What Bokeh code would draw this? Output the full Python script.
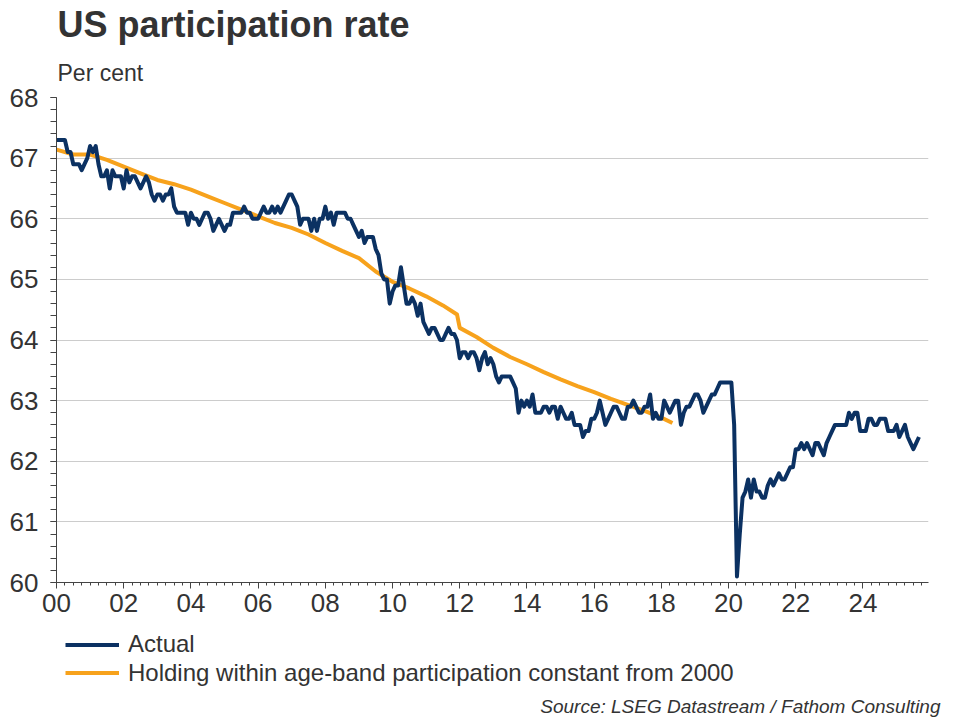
from bokeh.plotting import figure
from bokeh.models import Range1d, FixedTicker, Legend, LegendItem, Title, Label
from bokeh.layouts import column
from bokeh.embed import file_html
from bokeh.resources import INLINE

# ---------------- data ----------------
# Actual US participation rate, monthly from January 2000
actual_2000_2004 = [
    67.3, 67.3, 67.3, 67.3, 67.1, 67.1, 66.9, 66.9, 66.9, 66.8, 66.9, 67.0,
    67.2, 67.1, 67.2, 66.9, 66.7, 66.7, 66.8, 66.5, 66.8, 66.7, 66.7, 66.7,
    66.5, 66.8, 66.6, 66.7, 66.7, 66.6, 66.5, 66.6, 66.7, 66.6, 66.4, 66.3,
    66.4, 66.4, 66.3, 66.4, 66.4, 66.5, 66.2, 66.1, 66.1, 66.1, 66.1, 65.9,
    66.1, 66.0, 66.0, 65.9, 66.0, 66.1, 66.1, 66.0, 65.8, 65.9, 66.0, 65.9,
]
actual_2005_2009 = [
    65.8, 65.9, 65.9, 66.1, 66.1, 66.1, 66.1, 66.2, 66.1, 66.1, 66.0, 66.0,
    66.0, 66.1, 66.2, 66.1, 66.1, 66.2, 66.1, 66.2, 66.1, 66.2, 66.3, 66.4,
    66.4, 66.3, 66.2, 65.9, 66.0, 66.0, 66.0, 65.8, 66.0, 65.8, 66.0, 66.0,
    66.2, 66.0, 66.1, 65.9, 66.1, 66.1, 66.1, 66.1, 66.0, 66.0, 65.9, 65.8,
    65.7, 65.8, 65.6, 65.7, 65.7, 65.7, 65.5, 65.4, 65.1, 65.0, 65.0, 64.6,
]
actual_2010_2014 = [
    64.8, 64.9, 64.9, 65.2, 64.9, 64.6, 64.6, 64.7, 64.6, 64.4, 64.6, 64.3,
    64.2, 64.1, 64.2, 64.2, 64.1, 64.0, 64.0, 64.1, 64.2, 64.1, 64.1, 64.0,
    63.7, 63.8, 63.8, 63.7, 63.8, 63.8, 63.7, 63.5, 63.7, 63.8, 63.6, 63.7,
    63.6, 63.4, 63.3, 63.4, 63.4, 63.4, 63.4, 63.3, 63.2, 62.8, 63.0, 62.9,
    63.0, 62.9, 63.1, 62.8, 62.8, 62.8, 62.9, 62.9, 62.8, 62.9, 62.9, 62.7,
]
actual_2015_2019 = [
    62.9, 62.8, 62.7, 62.7, 62.8, 62.6, 62.6, 62.6, 62.4, 62.5, 62.5, 62.7,
    62.7, 62.8, 63.0, 62.8, 62.6, 62.7, 62.8, 62.9, 62.9, 62.8, 62.7, 62.7,
    62.9, 62.9, 63.0, 62.9, 62.8, 62.8, 62.9, 62.9, 63.1, 62.7, 62.8, 62.7,
    62.7, 63.0, 62.9, 62.8, 62.9, 63.0, 63.0, 62.6, 62.8, 62.9, 62.9, 63.0,
    63.1, 63.1, 63.0, 62.8, 62.9, 63.0, 63.1, 63.1, 63.2, 63.3, 63.3, 63.3,
]
actual_2020_2025 = [
    63.3, 63.3, 62.6, 60.1, 60.8, 61.4, 61.5, 61.7, 61.4, 61.7, 61.5, 61.5,
    61.4, 61.4, 61.6, 61.7, 61.6, 61.7, 61.8, 61.7, 61.7, 61.8, 61.9, 61.9,
    62.2, 62.2, 62.3, 62.2, 62.3, 62.2, 62.1, 62.3, 62.3, 62.2, 62.1, 62.3,
    62.4, 62.5, 62.6, 62.6, 62.6, 62.6, 62.6, 62.8, 62.7, 62.8, 62.8, 62.5,
    62.5, 62.5, 62.7, 62.7, 62.6, 62.6, 62.7, 62.7, 62.7, 62.5, 62.5, 62.5,
    62.6, 62.4, 62.5, 62.6, 62.4, 62.3, 62.2, 62.3, 62.4,
]
actual_first_year = 2000

# Counterfactual: holding within age-band participation constant from 2000
holding_dates = [
    2000.0, 2000.5, 2001.0, 2001.5, 2002.0, 2002.5, 2003.0, 2003.5,
    2004.0, 2004.5, 2005.0, 2005.5, 2006.0, 2006.5, 2007.0, 2007.5,
    2008.0, 2008.5, 2009.0, 2009.5, 2010.0, 2010.5, 2011.0, 2011.5,
    2011.92, 2012.0, 2012.5, 2013.0, 2013.5, 2014.0, 2014.5, 2015.0,
    2015.5, 2016.0, 2016.5, 2017.0, 2017.5, 2018.0, 2018.33,
]
holding_values = [
    67.14, 67.06, 67.06, 66.97, 66.86, 66.75, 66.64, 66.57,
    66.48, 66.37, 66.26, 66.15, 66.04, 65.93, 65.85, 65.74,
    65.60, 65.47, 65.35, 65.13, 64.96, 64.85, 64.72, 64.57,
    64.42, 64.20, 64.05, 63.87, 63.72, 63.60, 63.47, 63.35,
    63.24, 63.14, 63.03, 62.93, 62.83, 62.72, 62.63,
]

x_ticks = [2000, 2002, 2004, 2006, 2008, 2010, 2012, 2014, 2016, 2018, 2020, 2022, 2024]
x_tick_labels = ["00", "02", "04", "06", "08", "10", "12", "14", "16", "18", "20", "22", "24"]
y_ticks = [60, 61, 62, 63, 64, 65, 66, 67, 68]

series_names = ["Actual", "Holding within age-band participation constant from 2000"]
title_text = "US participation rate"
unit_text = "Per cent"
source_text = "Source: LSEG Datastream / Fathom Consulting"

# ---------------- build ----------------
actual = actual_2000_2004 + actual_2005_2009 + actual_2010_2014 + actual_2015_2019 + actual_2020_2025
actual_dates = [actual_first_year + i / 12 for i in range(len(actual))]

NAVY = "#0B3162"
ORANGE = "#F7A21C"
TEXT = "#333333"
FONT = "Liberation Sans"
LW = 4

# main chart
p = figure(width=960, height=630, output_backend="svg", toolbar_location=None,
           x_range=Range1d(2000, 2025.95), y_range=Range1d(60, 68),
           min_border_left=56, min_border_right=32, min_border_top=96, min_border_bottom=48)
p.frame_align = False
p.outline_line_color = None
p.background_fill_color = "white"
p.border_fill_color = "white"

minor_x = [2000 + q / 4 for q in range(0, 104)]
minor_y = [60 + k / 5 for k in range(0, 41)]
p.xaxis.ticker = FixedTicker(ticks=x_ticks, minor_ticks=minor_x)
p.yaxis.ticker = FixedTicker(ticks=y_ticks, minor_ticks=minor_y)
p.xaxis.major_label_overrides = {t: l for t, l in zip(x_ticks, x_tick_labels)}

for ax in (p.xaxis, p.yaxis):
    ax.axis_line_color = "#444444"
    ax.axis_line_width = 1
    ax.major_tick_line_color = "#444444"
    ax.minor_tick_line_color = "#444444"
    ax.major_tick_in = 0
    ax.minor_tick_in = 0
    ax.major_label_text_font = FONT
    ax.major_label_text_font_size = "26px"
    ax.major_label_text_color = TEXT
p.xaxis.major_tick_out = 6
p.xaxis.minor_tick_out = 3
p.xaxis.major_label_standoff = 5
p.yaxis.major_tick_out = 6
p.yaxis.minor_tick_out = 6
p.yaxis.major_label_standoff = 12

p.xgrid.visible = False
p.ygrid.grid_line_color = "#cccccc"
p.ygrid.grid_line_width = 1

p.line(holding_dates, holding_values, line_color=ORANGE, line_width=LW, line_join="round")
p.line(actual_dates, actual, line_color=NAVY, line_width=LW, line_join="round")

p.title.visible = False
p.add_layout(Title(text=unit_text, align="left", offset=1, standoff=24,
                   text_font=FONT, text_font_style="normal", text_font_size="23px",
                   text_color=TEXT), "above")
p.add_layout(Title(text=title_text, align="left", offset=1, standoff=2,
                   text_font=FONT, text_font_style="bold", text_font_size="36px",
                   text_color=TEXT), "above")

# footer: legend and source (same series drawn off-view, only to give the legend its keys)
f = figure(width=960, height=90, output_backend="svg", toolbar_location=None,
           x_range=Range1d(0, 1), y_range=Range1d(0, 1),
           x_axis_type=None, y_axis_type=None,
           min_border_left=0, min_border_right=0, min_border_top=0, min_border_bottom=0)
f.frame_align = False
f.outline_line_color = None
f.background_fill_color = "white"
f.border_fill_color = "white"

k_act = f.line(actual_dates, actual, line_color=NAVY, line_width=LW)
k_hold = f.line(holding_dates, holding_values, line_color=ORANGE, line_width=LW)


def make_legend(name, renderer, bottom):
    lg = Legend(items=[LegendItem(label=name, renderers=[renderer])], location=(65, bottom))
    lg.border_line_alpha = 0
    lg.background_fill_alpha = 0
    lg.padding = 0
    lg.margin = 0
    lg.spacing = 0
    lg.label_height = 23
    lg.glyph_height = 23
    lg.glyph_width = 54
    lg.label_standoff = 9
    lg.label_text_font = FONT
    lg.label_text_font_size = "24px"
    lg.label_text_color = TEXT
    return lg


f.add_layout(make_legend(series_names[0], k_act, 62))
f.add_layout(make_legend(series_names[1], k_hold, 33.5))

f.add_layout(Label(x=940, y=14, x_units="screen", y_units="screen", text=source_text,
                   text_font=FONT, text_font_style="italic", text_font_size="19px",
                   text_color=TEXT, text_align="right", text_baseline="alphabetic"))

open("out.html", "w").write(file_html(column(p, f, spacing=0), INLINE))
